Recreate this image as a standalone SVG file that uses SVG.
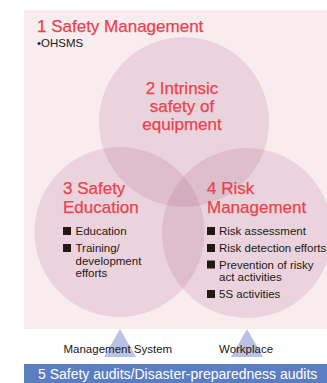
<svg xmlns="http://www.w3.org/2000/svg" width="327" height="383" viewBox="0 0 327 383">
<style>
.bg{fill:#f8ecef}
.c{fill:#a0527a;fill-opacity:0.16}
.h{font-family:"Liberation Sans",Arial,sans-serif;font-size:17px;fill:#e8434f;stroke:#e8434f;stroke-width:0.25}
.t{font-family:"Liberation Sans",Arial,sans-serif;font-size:11.5px;fill:#231815}
.sq{fill:#231815}
.tri{fill:#b8c2e3}
.bar{fill:#5b7dc2}
.bt{font-family:"Liberation Sans",Arial,sans-serif;font-size:14px;fill:#ffffff}
</style>
<rect class="bg" x="24" y="10" width="303" height="319"/>
<g id="n1">
<text class="h" x="37" y="32">1 Safety Management</text>
<text class="t" x="37" y="47">•OHSMS</text>
</g>
<g id="n2">
<circle class="c" cx="184" cy="122" r="85"/>
<text class="h" x="182" y="94" text-anchor="middle">2 Intrinsic</text>
<text class="h" x="182" y="112" text-anchor="middle">safety of</text>
<text class="h" x="182" y="130" text-anchor="middle">equipment</text>
</g>
<g id="n3">
<circle class="c" cx="119.5" cy="232" r="85"/>
<text class="h" x="63" y="194">3 Safety</text>
<text class="h" x="63" y="213">Education</text>
<rect class="sq" x="63" y="227" width="8" height="8"/>
<text class="t" x="75.5" y="235">Education</text>
<rect class="sq" x="63" y="244" width="8" height="8"/>
<text class="t" x="75.5" y="252">Training/</text>
<text class="t" x="75.5" y="264.5">development</text>
<text class="t" x="75.5" y="277">efforts</text>
</g>
<g id="n4">
<circle class="c" cx="247" cy="233" r="85"/>
<text class="h" x="207" y="194">4 Risk</text>
<text class="h" x="207" y="213">Management</text>
<rect class="sq" x="207" y="227" width="8" height="8"/>
<text class="t" x="219" y="235">Risk assessment</text>
<rect class="sq" x="207" y="244" width="8" height="8"/>
<text class="t" x="219" y="252">Risk detection efforts</text>
<rect class="sq" x="207" y="260.5" width="8" height="8"/>
<text class="t" x="219" y="268.5">Prevention of risky</text>
<text class="t" x="219" y="281">act activities</text>
<rect class="sq" x="207" y="290" width="8" height="8"/>
<text class="t" x="219" y="298">5S activities</text>
</g>
<g id="connectors">
<polygon class="tri" points="120,329 136,357 104,357"/>
<polygon class="tri" points="247,329 263,357 231,357"/>
</g>
<g id="labels">
<text class="t" x="63.5" y="353">Management System</text>
<text class="t" x="219" y="353">Workplace</text>
</g>
<g id="n5">
<rect class="bar" x="24" y="364" width="303" height="19"/>
<text class="bt" x="38" y="379">5 Safety audits/Disaster-preparedness audits</text>
</g>
</svg>
